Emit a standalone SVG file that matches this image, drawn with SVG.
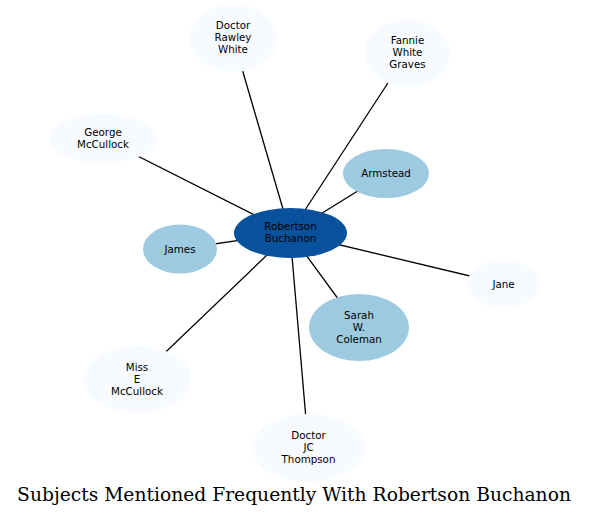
<svg xmlns="http://www.w3.org/2000/svg" width="589" height="517" viewBox="0 0 589 517">
<style>
.edge{stroke:#000;stroke-width:1.3;fill:none}
.hub{fill:#08519c}
.mid{fill:#9ecae1}
.low{fill:#f7fbff}
.lbl{font-family:"DejaVu Sans",sans-serif;font-size:10.3px;fill:#000;text-anchor:middle}
.title{font-family:"DejaVu Serif",serif;font-size:18.7px;fill:#000;text-anchor:middle}
</style>
<rect width="589" height="517" fill="#fff"/>
<g id="edges">
<line class="edge" x1="290" y1="233" x2="233" y2="38"/>
<line class="edge" x1="290" y1="233" x2="407.5" y2="53"/>
<line class="edge" x1="290" y1="233" x2="103" y2="138.5"/>
<line class="edge" x1="290" y1="233" x2="386" y2="173.5"/>
<line class="edge" x1="290" y1="233" x2="180" y2="249"/>
<line class="edge" x1="290" y1="233" x2="503.5" y2="284"/>
<line class="edge" x1="290" y1="233" x2="359" y2="327.5"/>
<line class="edge" x1="290" y1="233" x2="137" y2="379.5"/>
<line class="edge" x1="290" y1="233" x2="308.5" y2="448"/>
</g>
<g id="node-rawley">
<ellipse class="low" cx="233" cy="38" rx="44" ry="34"/>
<text class="lbl" x="233" y="29">Doctor</text>
<text class="lbl" x="233" y="41">Rawley</text>
<text class="lbl" x="233" y="53">White</text>
</g>
<g id="node-fannie">
<ellipse class="low" cx="407.5" cy="53" rx="42.5" ry="34"/>
<text class="lbl" x="407.5" y="44">Fannie</text>
<text class="lbl" x="407.5" y="56">White</text>
<text class="lbl" x="407.5" y="68">Graves</text>
</g>
<g id="node-george">
<ellipse class="low" cx="103" cy="138.5" rx="54" ry="24.5"/>
<text class="lbl" x="103" y="135.5">George</text>
<text class="lbl" x="103" y="147.5">McCullock</text>
</g>
<g id="node-armstead">
<ellipse class="mid" cx="386" cy="173.5" rx="43" ry="24.5"/>
<text class="lbl" x="386" y="177">Armstead</text>
</g>
<g id="node-james">
<ellipse class="mid" cx="180" cy="249" rx="37" ry="24.5"/>
<text class="lbl" x="180" y="252.5">James</text>
</g>
<g id="node-robertson">
<ellipse class="hub" cx="290.5" cy="233" rx="56.5" ry="25"/>
<text class="lbl" x="290.5" y="229.5">Robertson</text>
<text class="lbl" x="290.5" y="241.5">Buchanon</text>
</g>
<g id="node-jane">
<ellipse class="low" cx="503.5" cy="284" rx="36.5" ry="24"/>
<text class="lbl" x="503.5" y="287.5">Jane</text>
</g>
<g id="node-sarah">
<ellipse class="mid" cx="359" cy="327.5" rx="50" ry="33.5"/>
<text class="lbl" x="359" y="318.5">Sarah</text>
<text class="lbl" x="359" y="330.5">W.</text>
<text class="lbl" x="359" y="342.5">Coleman</text>
</g>
<g id="node-miss">
<ellipse class="low" cx="137" cy="379.5" rx="54" ry="33.5"/>
<text class="lbl" x="137" y="370.5">Miss</text>
<text class="lbl" x="137" y="382.5">E</text>
<text class="lbl" x="137" y="394.5">McCullock</text>
</g>
<g id="node-thompson">
<ellipse class="low" cx="308.5" cy="448" rx="56.5" ry="34"/>
<text class="lbl" x="308.5" y="439">Doctor</text>
<text class="lbl" x="308.5" y="451">JC</text>
<text class="lbl" x="308.5" y="463">Thompson</text>
</g>
<text class="title" x="294" y="501">Subjects Mentioned Frequently With Robertson Buchanon</text>
</svg>
